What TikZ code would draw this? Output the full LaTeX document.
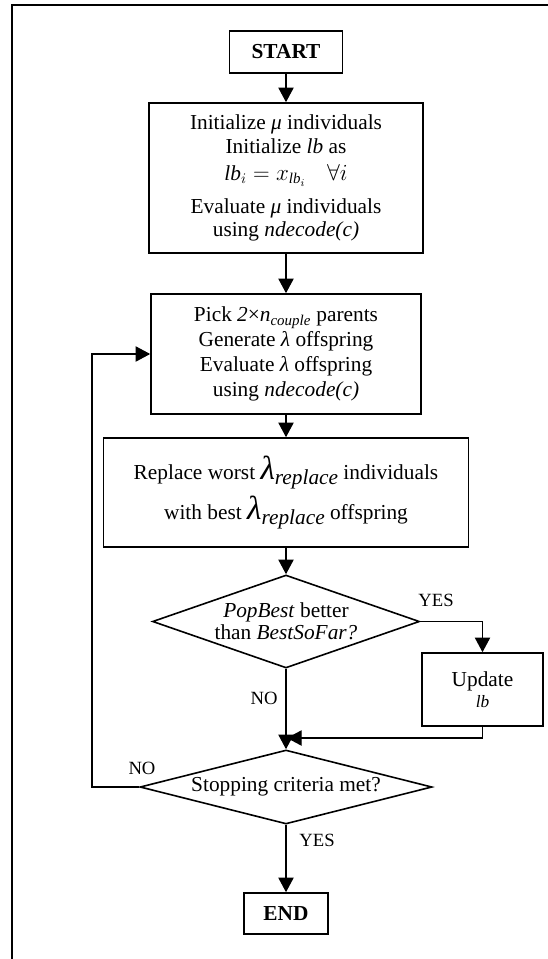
\documentclass[tikz,border=0pt]{standalone}
\usepackage{amsmath}
\usepackage{amssymb}
\usepackage{fontspec}
\setmainfont{Liberation Serif}
\usepackage{tikz}
\usetikzlibrary{shapes.geometric,arrows.meta}

\begin{document}
\begin{tikzpicture}[x=0.75pt,y=-0.75pt,font=\fontsize{16}{17.5}\selectfont,
    box/.style={draw,line width=1.2pt,align=center,inner sep=0pt},
    decision/.style={draw,diamond,line width=1.2pt,align=center,inner sep=0pt},
    term/.style={box,font=\bfseries\fontsize{16}{17.5}\selectfont},
    arr/.style={line width=1pt,-{Triangle[length=11pt,width=11.5pt]}},
    lbl/.style={font=\fontsize{14}{15}\selectfont,inner sep=0pt}]
        \useasboundingbox (0,0) rectangle (548,959);
        \draw[line width=2pt] (12,959) -- (12,5) -- (548,5);
        \node[term,minimum width=84.75pt,minimum height=31.5pt] (start) at (286,52) {START};
        \node[box,minimum width=205.5pt,minimum height=112.5pt] (init) at (286,178)
          {Initialize \textit{μ} individuals\\ Initialize \textit{lb} as\\[3pt]
           $\mathit{lb}_i = x_{\mathit{lb}_i}\quad\forall i$\\[7pt]
           Evaluate \textit{μ} individuals\\ using \textit{ndecode(c)}};
        \node[box,minimum width=202.5pt,minimum height=90pt] (pick) at (286,354)
          {Pick \textit{2}×\textit{n}\textsubscript{\textit{couple}} parents\\[1.2pt]
           Generate \textit{λ} offspring\\[1.2pt] Evaluate \textit{λ} offspring\\[1.2pt]
           using \textit{ndecode(c)}};
        \node[box,minimum width=273.75pt,minimum height=81.75pt] (replace) at (286,492.5)
          {Replace worst {\fontsize{25}{25}\selectfont\textit{λ}}\raisebox{-4pt}{\textit{replace}} individuals\\[4pt]
           with best {\fontsize{25}{25}\selectfont\textit{λ}}\raisebox{-4pt}{\textit{replace}} offspring};
        \node[decision,aspect=2.87,minimum width=200.25pt,minimum height=69.75pt,font=\fontsize{16}{16.5}\selectfont] (better) at (286,621.5)
          {\textit{PopBest} better\\ than \textit{BestSoFar?}};
        \node[box,minimum width=90.75pt,minimum height=54.75pt] (update) at (482.5,689.5)
          {Update\\[-2pt] {\fontsize{13}{13}\selectfont\textit{lb}}};
        \node[decision,aspect=3.95,minimum width=219pt,minimum height=55.5pt] (stop) at (286,787)
          {Stopping criteria met?};
        \node[term,minimum width=63pt,minimum height=30.75pt] (finish) at (286,913.5) {END};
        \coordinate (join) at (287,738);
        \coordinate (back) at (92,787);
        \draw[arr] (start) -- (init);
        \draw[arr] (init) -- (pick);
        \draw[arr] (pick) -- (replace);
        \draw[arr] (replace) -- (better);
        \draw[arr] (better.east) -| (update.north);
        \draw[arr] (better.south) -- (stop.north);
        \draw[arr] (update.south) |- (join);
        \draw[arr] (stop.west) -- (back) |- (pick.west);
        \draw[arr] (stop.south) -- (finish.north);
        \node[lbl] (yes1) at (436,600) {YES};
        \node[lbl] (no1) at (264,698) {NO};
        \node[lbl] (no2) at (142,768) {NO};
        \node[lbl] (yes2) at (317,840) {YES};
      \end{tikzpicture}
\end{document}
